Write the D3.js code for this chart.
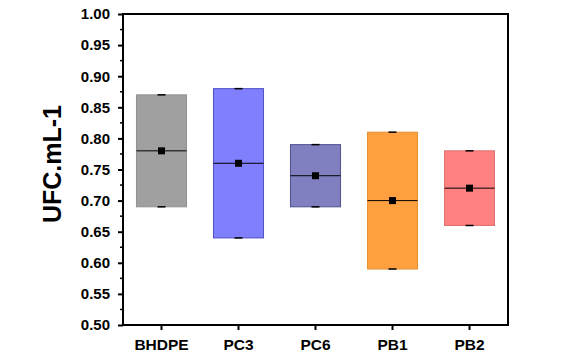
<!DOCTYPE html>
<html><head><meta charset="utf-8">
<script src="https://cdn.jsdelivr.net/npm/d3@7"></script>
<style>body{margin:0;background:#fff}svg{display:block}</style>
</head><body>
<script>
const categories = ["BHDPE","PC3","PC6","PB1","PB2"];
const maxVals = [0.87, 0.88, 0.79, 0.81, 0.78];
const minVals = [0.69, 0.64, 0.69, 0.59, 0.66];
const meanVals = [0.78, 0.76, 0.74, 0.70, 0.72];
const medianVals = [0.78, 0.76, 0.74, 0.70, 0.72];
const fills = ["#a0a0a0","#8080ff","#8080c0","#ffa040","#ff8080"];
const strokes = ["#909090","#5050c0","#505090","#e89030","#e07070"];
const yTicks = [0.50,0.55,0.60,0.65,0.70,0.75,0.80,0.85,0.90,0.95,1.00];

const W=575,H=358;
const m={l:123,r:67,t:14,b:33};
const svg=d3.select("body").append("svg").attr("width",W).attr("height",H);
const x=d3.scaleBand().domain(categories).range([m.l,W-m.r]).paddingInner(0).paddingOuter(0);
const y=d3.scaleLinear().domain([0.5,1.0]).range([H-m.b,m.t]);
const bw=x.bandwidth()*0.65;
const font="Arial, 'Liberation Sans', sans-serif";

const data=categories.map((c,i)=>({c,max:maxVals[i],min:minVals[i],mean:meanVals[i],med:medianVals[i],fill:fills[i],stroke:strokes[i]}));
const g=svg.append("g");
data.forEach(d=>{
  const cx=x(d.c)+x.bandwidth()/2;
  g.append("rect").attr("x",cx-bw/2).attr("y",y(d.max)).attr("width",bw).attr("height",y(d.min)-y(d.max))
    .attr("fill",d.fill).attr("stroke",d.stroke).attr("stroke-width",1);
  g.append("line").attr("x1",cx-bw/2).attr("x2",cx+bw/2).attr("y1",y(d.med)).attr("y2",y(d.med)).attr("stroke","#000").attr("stroke-width",1);
  [d.max,d.min].forEach(v=>g.append("line").attr("x1",cx-4).attr("x2",cx+4).attr("y1",y(v)).attr("y2",y(v)).attr("stroke","#000").attr("stroke-width",1.5));
  g.append("rect").attr("x",cx-3.5).attr("y",y(d.mean)-3.5).attr("width",7).attr("height",7).attr("fill","#000");
});

// frame
svg.append("rect").attr("x",m.l).attr("y",m.t).attr("width",W-m.r-m.l).attr("height",H-m.b-m.t)
  .attr("fill","none").attr("stroke","#000").attr("stroke-width",2);

// y axis
const ya=svg.append("g").attr("transform",`translate(${m.l},0)`)
  .call(d3.axisLeft(y).tickValues(yTicks).tickFormat(d3.format(".2f")).tickSize(5).tickPadding(8));
ya.select(".domain").remove();
ya.selectAll(".tick line").attr("stroke-width",2);
ya.selectAll("text").attr("font-family",font).attr("font-weight","bold").attr("font-size",15).attr("fill","#000");
const minor=d3.range(0,10).map(i=>0.525+i*0.05);
svg.append("g").selectAll("line").data(minor).join("line")
  .attr("x1",m.l-3).attr("x2",m.l).attr("y1",d=>y(d)).attr("y2",d=>y(d)).attr("stroke","#000").attr("stroke-width",1.5);

// x axis
const xa=svg.append("g").attr("transform",`translate(0,${H-m.b})`)
  .call(d3.axisBottom(x).tickSize(5).tickPadding(9));
xa.select(".domain").remove();
xa.selectAll(".tick line").attr("stroke-width",2);
xa.selectAll("text").attr("font-family",font).attr("font-weight","bold").attr("font-size",15.5).attr("fill","#000");

// y label
svg.append("text").attr("transform",`translate(61,164) rotate(-90)`).attr("text-anchor","middle")
  .attr("font-family",font).attr("font-weight","bold").attr("font-size",25).attr("fill","#000").text("UFC.mL-1");
</script>
</body></html>
